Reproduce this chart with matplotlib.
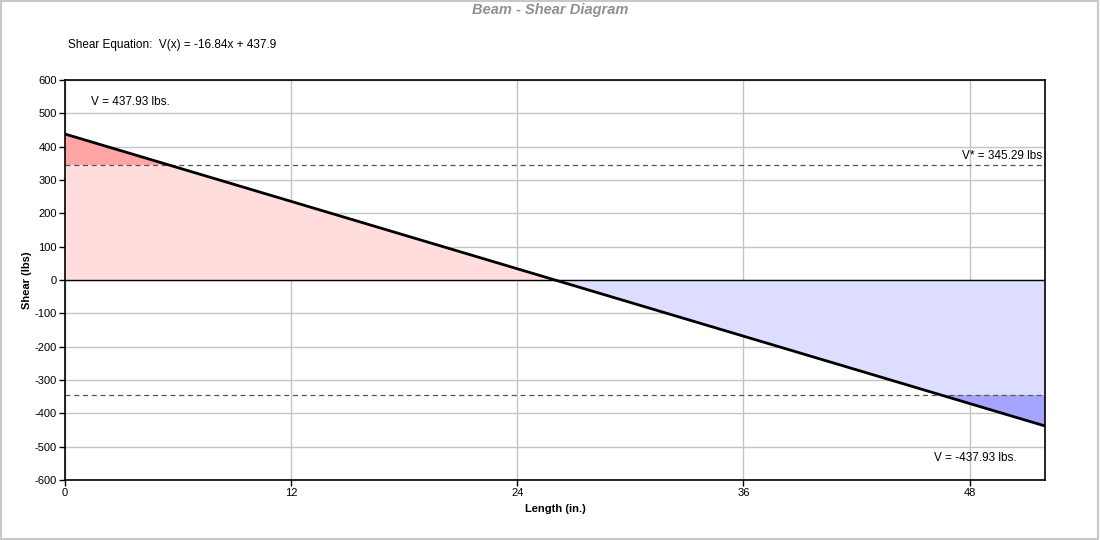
import numpy as np
import matplotlib
matplotlib.use("Agg")
import matplotlib.pyplot as plt
from matplotlib.patches import Rectangle

plt.rcParams['font.family'] = ['Liberation Sans', 'DejaVu Sans']
plt.rcParams['axes.unicode_minus'] = False

# Data
length = 52.0
x_pts = np.array([0.0, 26.0, 52.0])
v_pts = np.array([437.93, 0.0, -437.93])
v_allow = 345.29
x_ticks = [0, 12, 24, 36, 48]
y_ticks = [-600, -500, -400, -300, -200, -100, 0, 100, 200, 300, 400, 500, 600]

fig = plt.figure(figsize=(11, 5.4), dpi=100)
fig.patches.append(Rectangle((0.001, 0.002), 0.997, 0.996, transform=fig.transFigure,
                             fill=False, edgecolor='#C8C8C8', linewidth=1.5))
ax = fig.add_axes([65/1100, 1-480/540, 980/1100, 400/540])

ax.fill_between(x_pts, 0, v_pts, where=v_pts >= 0, interpolate=True,
                facecolor='#FFDDDD', edgecolor='none', zorder=1)
ax.fill_between(x_pts, 0, v_pts, where=v_pts <= 0, interpolate=True,
                facecolor='#DDDDFF', edgecolor='none', zorder=1)
ax.fill_between(x_pts, v_allow, v_pts, where=v_pts >= v_allow, interpolate=True,
                facecolor='#FFA5A5', edgecolor='none', zorder=1.1)
ax.fill_between(x_pts, -v_allow, v_pts, where=v_pts <= -v_allow, interpolate=True,
                facecolor='#A5A5FF', edgecolor='none', zorder=1.1)

ax.set_xlim(0, length)
ax.set_ylim(-600, 600)
ax.set_xticks(x_ticks)
ax.set_yticks(y_ticks)
ax.grid(True, color='#C4C4C4', linewidth=1, zorder=0)
ax.set_axisbelow(True)
ax.axhline(0, color='black', linewidth=1, zorder=2)
ax.axhline(v_allow, color='#555555', linewidth=0.9, linestyle=(0, (4, 3)), zorder=2)
ax.axhline(-v_allow, color='#555555', linewidth=0.9, linestyle=(0, (4, 3)), zorder=2)
ax.plot(x_pts, v_pts, color='black', linewidth=2, zorder=3)

for s in ax.spines.values():
    s.set_color('black')
    s.set_linewidth(1.2)
ax.tick_params(axis='both', labelsize=8, length=4, width=1, color='black', pad=2)

ax.text(1.4, 535, 'V = 437.93 lbs.', fontsize=8.5, va='center', ha='left')
ax.text(length - 0.15, v_allow + 8, 'V* = 345.29 lbs', fontsize=8.5, va='bottom', ha='right')
ax.text(length - 1.5, -535, 'V = -437.93 lbs.', fontsize=8.5, va='center', ha='right')

ax.set_xlabel('Length (in.)', fontsize=8, fontweight='bold', labelpad=4)
ax.set_ylabel('Shear (lbs)', fontsize=8, fontweight='bold', va='center')
ax.yaxis.set_label_coords(-(65-27)/980, 0.5)

fig.text(0.5, 1-10/540, 'Beam - Shear Diagram', ha='center', va='center', fontsize=10.5,
         fontweight='bold', fontstyle='italic', color='#909090')
fig.text(68/1100, 1-45/540, 'Shear Equation:  V(x) = -16.84x + 437.9', ha='left', va='center',
         fontsize=8.5)

fig.savefig('out.png', dpi=100)
